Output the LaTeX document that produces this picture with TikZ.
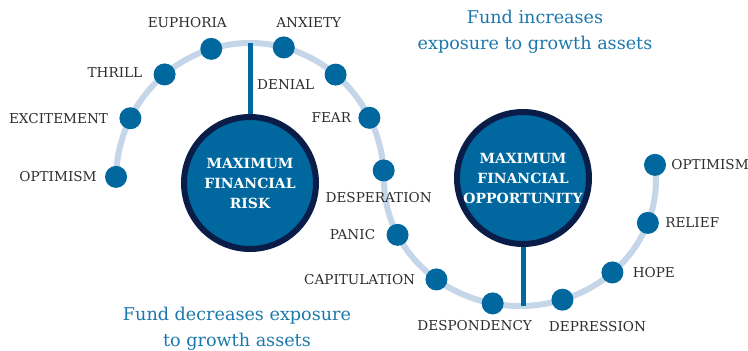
\documentclass[tikz,border=0pt]{standalone}
\usepackage{fontspec}
\setmainfont{DejaVu Serif}
\usetikzlibrary{positioning}

\definecolor{dotblue}{RGB}{0,104,158}
\definecolor{trackblue}{RGB}{197,214,232}
\definecolor{navy}{RGB}{10,28,72}
\definecolor{noteblue}{RGB}{28,120,172}
\definecolor{labelgray}{RGB}{45,45,45}

\tikzset{
  track/.style={draw=trackblue, line width=6pt},
  stem/.style={draw=dotblue, line width=5pt},
  stage/.style={circle, fill=dotblue, minimum size=22pt, inner sep=0pt},
  feeling/.style={text=labelgray, inner sep=1pt, font=\fontsize{13.6}{16}\selectfont},
  extreme/.style={circle, draw=navy, line width=6pt, fill=dotblue, minimum size=132pt,
    inner sep=0pt, align=center, text=white, font=\bfseries\fontsize{14}{20}\selectfont},
  note/.style={align=center, text=noteblue, font=\fontsize{17.6}{26}\selectfont}
}

\begin{document}
\begin{tikzpicture}[x=1pt,y=-1pt]
  \useasboundingbox (0,0) rectangle (748,351);

  % Centres of the two halves
  \coordinate (c1) at (250,180);
  \coordinate (c2) at (520,180);
  \coordinate (top1) at ([shift={(270:134 and 137)}]c1);
  \coordinate (bot2) at ([shift={(90:136 and 126)}]c2);

  % The cycle
  \draw[track] ([shift={(181.3:134 and 137)}]c1)
    arc[start angle=181.3, end angle=360, x radius=134, y radius=137]
    arc[start angle=180, end angle=-6.9, x radius=136, y radius=126];

  % Define nodes
  \node[extreme] (risk) at (250,183) {MAXIMUM\\FINANCIAL\\RISK};
  \node[extreme] (chance) at (523,178) {MAXIMUM\\FINANCIAL\\OPPORTUNITY};

  \node[stage] (d1) at ([shift={(181.3:134 and 137)}]c1) {};
  \node[stage] (d2) at ([shift={(206.8:134 and 137)}]c1) {};
  \node[stage] (d3) at ([shift={(230.4:134 and 137)}]c1) {};
  \node[stage] (d4) at ([shift={(253.2:134 and 137)}]c1) {};
  \node[stage] (d5) at ([shift={(284.6:134 and 137)}]c1) {};
  \node[stage] (d6) at ([shift={(309.7:134 and 137)}]c1) {};
  \node[stage] (d7) at ([shift={(333:134 and 137)}]c1) {};
  \node[stage] (d8) at ([shift={(356:134 and 137)}]c1) {};
  \node[stage] (d9) at ([shift={(154.2:136 and 126)}]c2) {};
  \node[stage] (d10) at ([shift={(127.9:136 and 126)}]c2) {};
  \node[stage] (d11) at ([shift={(101.6:136 and 126)}]c2) {};
  \node[stage] (d12) at ([shift={(71.8:136 and 126)}]c2) {};
  \node[stage] (d13) at ([shift={(47.2:136 and 126)}]c2) {};
  \node[stage] (d14) at ([shift={(19.9:136 and 126)}]c2) {};
  \node[stage] (d15) at ([shift={(-6.9:136 and 126)}]c2) {};

  \node[feeling, left=7pt of d1] {OPTIMISM};
  \node[feeling, left=10pt of d2] {EXCITEMENT};
  \node[feeling, left=10pt of d3, yshift=2pt] {THRILL};
  \node[feeling, above=9pt of d4, xshift=-24pt] {EUPHORIA};
  \node[feeling, above=7pt of d5, xshift=25pt] {ANXIETY};
  \node[feeling, left=9pt of d6, yshift=-10pt] {DENIAL};
  \node[feeling, left=6pt of d7] {FEAR};
  \node[feeling, below=10pt of d8, xshift=-5pt] {DESPERATION};
  \node[feeling, left=10pt of d9] {PANIC};
  \node[feeling, left=9pt of d10] {CAPITULATION};
  \node[feeling, below=5pt of d11, xshift=-18pt] {DESPONDENCY};
  \node[feeling, below=9pt of d12, xshift=35pt] {DEPRESSION};
  \node[feeling, right=8pt of d13] {HOPE};
  \node[feeling, right=5pt of d14] {RELIEF};
  \node[feeling, right=4pt of d15] {OPTIMISM};

  \node[note] (up) at (535,32) {Fund increases\\exposure to growth assets};
  \node[note] (down) at (237,329) {Fund decreases exposure\\to growth assets};

  % Connect the nodes
  \draw[stem] (risk) -- (top1);
  \draw[stem] (chance) -- (chance |- bot2);
\end{tikzpicture}
\end{document}
